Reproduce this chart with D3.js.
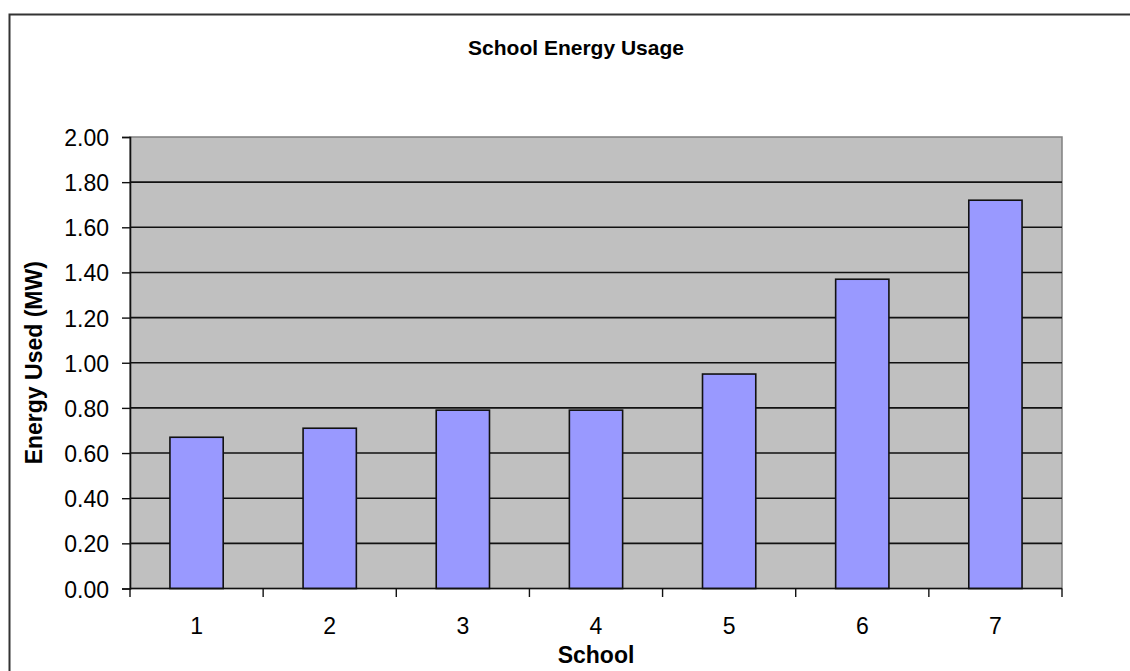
<!DOCTYPE html>
<html>
<head>
<meta charset="utf-8">
<script src="https://cdn.jsdelivr.net/npm/d3@7"></script>
<style>
  html, body { margin: 0; padding: 0; background: #fff; }
  svg { display: block; font-family: "Liberation Sans", Arial, sans-serif; }
</style>
</head>
<body>
<svg id="chart" width="1130" height="671"></svg>
<script>
// School energy usage data (MW)
const schools = ["1", "2", "3", "4", "5", "6", "7"];
const energyUsed = [0.67, 0.71, 0.79, 0.79, 0.95, 1.37, 1.72];
const yTicks = [0, 0.2, 0.4, 0.6, 0.8, 1.0, 1.2, 1.4, 1.6, 1.8, 2.0];

const svg = d3.select("#chart");
const plot = { left: 130, top: 137, right: 1062, bottom: 588.5 };

// outer chart frame
svg.append("rect")
  .attr("x", 9.5).attr("y", 14.5)
  .attr("width", 1200).attr("height", 700)
  .attr("fill", "#fff")
  .attr("stroke", "#333").attr("stroke-width", 2);

const x = d3.scaleBand()
  .domain(schools)
  .range([plot.left, plot.right])
  .paddingInner(0.6)
  .paddingOuter(0.3);

const xCat = d3.scaleBand()
  .domain(schools)
  .range([plot.left, plot.right]);

const y = d3.scaleLinear()
  .domain([0, 2])
  .range([plot.bottom, plot.top]);

// plot area background
svg.append("rect")
  .attr("x", plot.left).attr("y", plot.top)
  .attr("width", plot.right - plot.left)
  .attr("height", plot.bottom - plot.top)
  .attr("fill", "#C0C0C0")
  .attr("stroke", "#808080").attr("stroke-width", 1.5);

// horizontal gridlines
svg.append("g")
  .selectAll("line")
  .data(yTicks.filter(d => d > 0 && d < 2))
  .join("line")
  .attr("x1", plot.left).attr("x2", plot.right)
  .attr("y1", d => y(d)).attr("y2", d => y(d))
  .attr("stroke", "#111").attr("stroke-width", 1.6);

// bars
svg.append("g")
  .selectAll("rect")
  .data(energyUsed)
  .join("rect")
  .attr("x", (d, i) => x(schools[i]))
  .attr("y", d => y(d))
  .attr("width", x.bandwidth())
  .attr("height", d => y(0) - y(d))
  .attr("fill", "#9999FF")
  .attr("stroke", "#111").attr("stroke-width", 1.6);

// y axis
const yAxis = svg.append("g")
  .attr("transform", `translate(${plot.left},0)`)
  .call(d3.axisLeft(y).tickValues(yTicks).tickFormat(d3.format(".2f")).tickSize(8).tickPadding(13));
yAxis.select(".domain").attr("stroke", "#111").attr("stroke-width", 1.6);
yAxis.selectAll(".tick line").attr("stroke", "#111").attr("stroke-width", 1.4);
yAxis.selectAll(".tick text")
  .attr("fill", "#000")
  .attr("dy", "0.37em")
  .style("font-size", "23px")
  .style("font-family", "'Liberation Sans', Arial, sans-serif");

// x axis: ticks at category boundaries, labels at centers
const xAxisG = svg.append("g");
const boundaries = schools.map(s => xCat(s)).concat([plot.right]);
xAxisG.append("line")
  .attr("x1", plot.left).attr("x2", plot.right)
  .attr("y1", plot.bottom).attr("y2", plot.bottom)
  .attr("stroke", "#111").attr("stroke-width", 1.6);
xAxisG.selectAll("line.tick")
  .data(boundaries)
  .join("line")
  .attr("class", "tick")
  .attr("x1", d => d).attr("x2", d => d)
  .attr("y1", plot.bottom).attr("y2", plot.bottom + 8.5)
  .attr("stroke", "#111").attr("stroke-width", 1.4);
xAxisG.selectAll("text")
  .data(schools)
  .join("text")
  .attr("x", d => xCat(d) + xCat.bandwidth() / 2)
  .attr("y", 633.5)
  .attr("text-anchor", "middle")
  .style("font-size", "23px")
  .text(d => d);

// titles
svg.append("text")
  .attr("x", 576).attr("y", 55)
  .attr("text-anchor", "middle")
  .style("font-size", "21px").style("font-weight", "bold")
  .text("School Energy Usage");

svg.append("text")
  .attr("x", 596).attr("y", 663)
  .attr("text-anchor", "middle")
  .style("font-size", "23px").style("font-weight", "bold")
  .text("School");

svg.append("text")
  .attr("transform", `translate(42,${(plot.top + plot.bottom) / 2}) rotate(-90)`)
  .attr("text-anchor", "middle")
  .style("font-size", "23px").style("font-weight", "bold")
  .text("Energy Used (MW)");
</script>
</body>
</html>
